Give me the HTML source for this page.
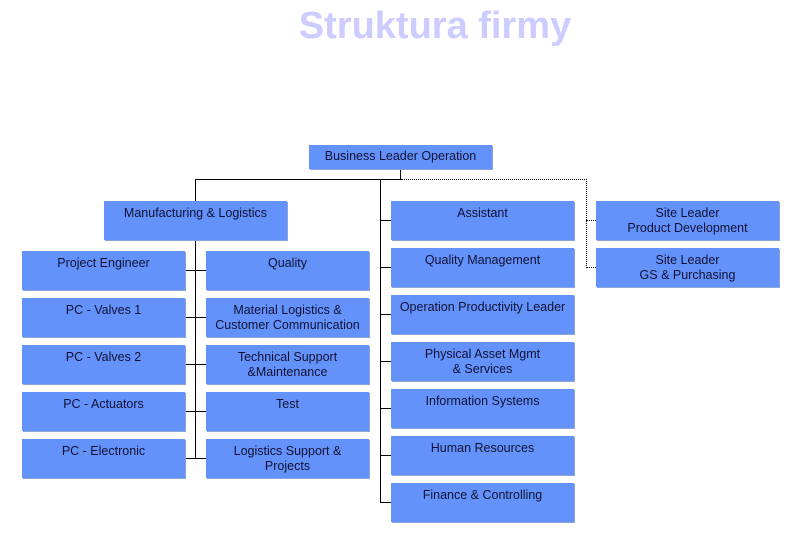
<!DOCTYPE html>
<html><head><meta charset="utf-8"><style>
body{margin:0;width:788px;height:541px;background:#fff;position:relative;overflow:hidden;font-family:"Liberation Sans",Arial,sans-serif}
.b{position:absolute;background:#6492fb;color:#111133;font-size:12.5px;text-align:center;line-height:15px;padding-top:5px;box-sizing:border-box;box-shadow:1px 1px 0 #8aa4d8}
.l{position:absolute;background:#000}
.d{position:absolute;border-color:#000;border-style:dotted;border-width:0}
h1{position:absolute;margin:0;left:0;width:870px;text-align:center;top:5px;font-size:38px;font-weight:bold;color:#ccccff}
</style></head><body>
<h1>Struktura firmy</h1>

<div class="l" style="left:400px;top:169px;width:1px;height:11px"></div>
<div class="l" style="left:195px;top:179px;width:206px;height:1px"></div>
<div class="d" style="left:401px;top:179px;width:185px;height:88px;border-top-width:1px;border-right-width:1px"></div>
<div class="d" style="left:586px;top:220px;width:10px;border-top-width:1px"></div>
<div class="d" style="left:586px;top:267px;width:10px;border-top-width:1px"></div>
<div class="l" style="left:195px;top:179px;width:1px;height:22px"></div>
<div class="l" style="left:380px;top:179px;width:1px;height:324px"></div>
<div class="l" style="left:195px;top:240px;width:1px;height:219px"></div>

<div class="l" style="left:380px;top:220px;width:11px;height:1px"></div>
<div class="l" style="left:380px;top:267px;width:11px;height:1px"></div>
<div class="l" style="left:380px;top:314px;width:11px;height:1px"></div>
<div class="l" style="left:380px;top:361px;width:11px;height:1px"></div>
<div class="l" style="left:380px;top:408px;width:11px;height:1px"></div>
<div class="l" style="left:380px;top:455px;width:11px;height:1px"></div>
<div class="l" style="left:380px;top:502px;width:11px;height:1px"></div>

<div class="l" style="left:185px;top:270px;width:21px;height:1px"></div>
<div class="l" style="left:185px;top:317px;width:21px;height:1px"></div>
<div class="l" style="left:185px;top:364px;width:21px;height:1px"></div>
<div class="l" style="left:185px;top:411px;width:21px;height:1px"></div>
<div class="l" style="left:185px;top:458px;width:21px;height:1px"></div>

<div class="b" style="left:309px;top:145px;width:183px;height:24px;padding-top:4px">Business Leader Operation</div>
<div class="b" style="left:104px;top:201px;width:183px;height:39px">Manufacturing &amp; Logistics</div>

<div class="b" style="left:391px;top:201px;width:183px;height:39px">Assistant</div>
<div class="b" style="left:391px;top:248px;width:183px;height:39px">Quality Management</div>
<div class="b" style="left:391px;top:295px;width:183px;height:39px">Operation Productivity Leader</div>
<div class="b" style="left:391px;top:342px;width:183px;height:39px">Physical Asset Mgmt<br>&amp; Services</div>
<div class="b" style="left:391px;top:389px;width:183px;height:39px">Information Systems</div>
<div class="b" style="left:391px;top:436px;width:183px;height:39px">Human Resources</div>
<div class="b" style="left:391px;top:483px;width:183px;height:39px">Finance &amp; Controlling</div>

<div class="b" style="left:596px;top:201px;width:183px;height:39px">Site Leader<br>Product Development</div>
<div class="b" style="left:596px;top:248px;width:183px;height:39px">Site Leader<br>GS &amp; Purchasing</div>

<div class="b" style="left:22px;top:251px;width:163px;height:39px">Project Engineer</div>
<div class="b" style="left:22px;top:298px;width:163px;height:39px">PC - Valves 1</div>
<div class="b" style="left:22px;top:345px;width:163px;height:39px">PC - Valves 2</div>
<div class="b" style="left:22px;top:392px;width:163px;height:39px">PC - Actuators</div>
<div class="b" style="left:22px;top:439px;width:163px;height:39px">PC - Electronic</div>

<div class="b" style="left:206px;top:251px;width:163px;height:39px">Quality</div>
<div class="b" style="left:206px;top:298px;width:163px;height:39px">Material Logistics &amp;<br>Customer Communication</div>
<div class="b" style="left:206px;top:345px;width:163px;height:39px">Technical Support<br>&amp;Maintenance</div>
<div class="b" style="left:206px;top:392px;width:163px;height:39px">Test</div>
<div class="b" style="left:206px;top:439px;width:163px;height:39px">Logistics Support &amp;<br>Projects</div>
</body></html>
